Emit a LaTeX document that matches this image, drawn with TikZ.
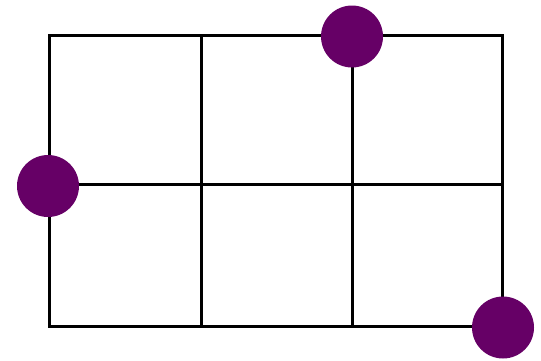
\documentclass[tikz,border=0pt]{standalone}
\definecolor{dot}{HTML}{660066}
\tikzset{gridline/.style={line width=3pt,black}, dotnode/.style={circle,fill=dot,minimum size=62pt,inner sep=0pt}}
\begin{document}
\begin{tikzpicture}[x=1pt,y=-1pt]
\useasboundingbox (0,0) rectangle (541,360);
\draw[gridline] (49,35) rectangle (502,326);
\draw[gridline] (201,35) -- (201,326);
\draw[gridline] (352,35) -- (352,326);
\draw[gridline] (49,184) -- (502,184);
\node[dotnode] (a) at (352,36.5) {};
\node[dotnode] (b) at (48,186) {};
\node[dotnode] (c) at (503,327.5) {};
\end{tikzpicture}
\end{document}
